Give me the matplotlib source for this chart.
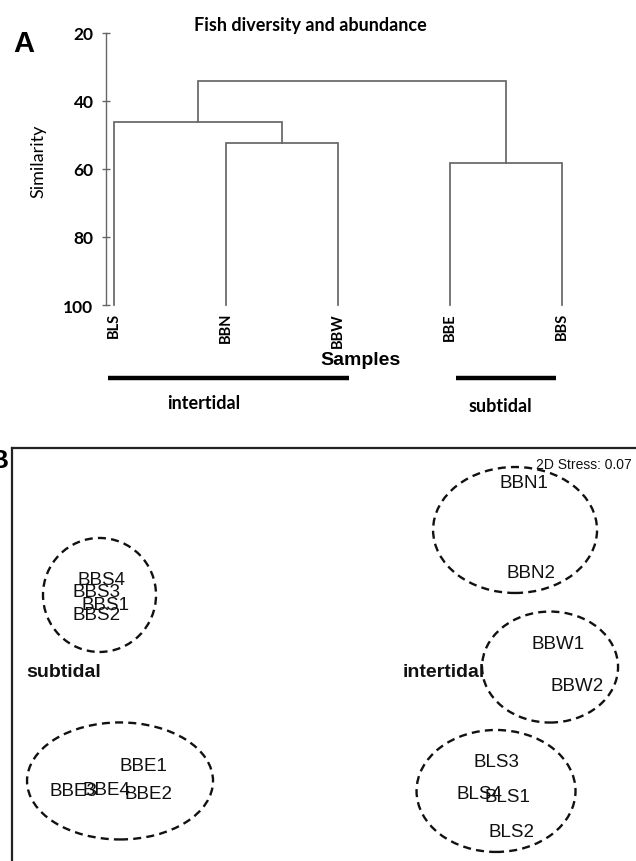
import matplotlib
matplotlib.use("Agg")
import matplotlib.pyplot as plt
from matplotlib.patches import Ellipse
import matplotlib.transforms as mtransforms

# ---------------- Data ----------------
# Panel A: cluster dendrogram (Bray-Curtis similarity)
leaves = ["BLS", "BBN", "BBW", "BBE", "BBS"]
link_a = ["BBN", "BBE", "BLS", "n3"]
link_b = ["BBW", "BBS", "n1", "n2"]
link_names = ["n1", "n2", "n3", "n4"]
link_height = [52.4, 58.1, 46.1, 34.1]
sim_ticks = [20, 40, 60, 80, 100]
groups_A = ["intertidal", "subtidal"]
groups_A_first = ["BLS", "BBE"]
groups_A_last = ["BBW", "BBS"]

# Panel B: nMDS ordination
mds_labels = ["BBS4", "BBS3", "BBS1", "BBS2",
              "BBN1", "BBN2", "BBW1", "BBW2",
              "BLS3", "BLS4", "BLS1", "BLS2",
              "BBE1", "BBE3", "BBE4", "BBE2"]
mds_x = [-2.163, -2.201, -2.125, -2.201,
         1.815, 1.881, 2.135, 2.314,
         1.552, 1.392, 1.655, 1.702,
         -1.768, -2.426, -2.116, -1.721]
mds_y = [0.784, 0.664, 0.552, 0.459,
         1.684, 0.849, 0.181, -0.200,
         -0.905, -1.202, -1.230, -1.555,
         -0.951, -1.183, -1.174, -1.202]
ell_cx = [-2.177, 1.731, 2.060, 1.552, -1.984]
ell_cy = [0.636, 1.239, -0.033, -1.183, -1.090]
ell_w = [1.063, 1.542, 1.279, 1.495, 1.749]
ell_h = [1.058, 1.169, 1.030, 1.132, 1.086]
group_B = ["subtidal", "intertidal"]
group_B_x = [-2.868, 0.677]
group_B_y = [-0.070, -0.070]
stress = 0.07

# ---------------- Figure ----------------
W, H = 636, 862
fig = plt.figure(figsize=(W / 100, H / 100), dpi=100)

def fx(px):
    return px / W

def fy(py):
    return 1 - py / H

# ---- Panel A ----
axA = fig.add_axes([fx(106), fy(306), (580 - 106) / W, (306 - 34) / H])
line_col = "#666666"

pos = {name: (float(i), 100.0) for i, name in enumerate(leaves)}
for a, b, nm, h in zip(link_a, link_b, link_names, link_height):
    xa, ya = pos[a]
    xb, yb = pos[b]
    axA.plot([xa, xa, xb, xb], [ya, h, h, yb], color=line_col, lw=1.25,
             solid_joinstyle="miter", clip_on=False)
    pos[nm] = ((xa + xb) / 2, h)

axA.set_ylim(100, 20)
axA.set_xlim(-0.0714, 4.16)
axA.set_yticks(sim_ticks)
axA.set_yticklabels([str(t) for t in sim_ticks], fontfamily="Lato",
                    fontweight="bold", fontsize=12.5)
axA.tick_params(axis="y", direction="inout", length=6, width=1,
                color=line_col, pad=6)
axA.set_xticks(range(len(leaves)))
axA.set_xticklabels(leaves, rotation=90, fontfamily="Lato",
                    fontweight="bold", fontsize=10.5)
axA.tick_params(axis="x", length=0, pad=5)
for s in ["top", "right", "bottom"]:
    axA.spines[s].set_visible(False)
axA.spines["left"].set_color(line_col)
axA.spines["left"].set_linewidth(1.0)

trA = mtransforms.blended_transform_factory(axA.transData, axA.transAxes)
axA.text(2.2, -0.202, "Samples", transform=trA, ha="center", va="center",
         fontfamily="Liberation Sans", fontweight="bold", fontsize=14)
bar_pad_l = [-0.05, 0.05]
bar_pad_r = [0.1, -0.05]
for g, f0, f1, pl, pr in zip(groups_A, groups_A_first, groups_A_last,
                             bar_pad_l, bar_pad_r):
    x0 = leaves.index(f0) + pl
    x1 = leaves.index(f1) + pr
    axA.plot([x0, x1], [-0.268, -0.268], transform=trA, color="black",
             lw=3.2, solid_capstyle="butt", clip_on=False)
txt_pos = [(0.8, -0.357), (3.45, -0.368)]
for g, (tx, ty) in zip(groups_A, txt_pos):
    axA.text(tx, ty, g, transform=trA, ha="center", va="center",
             fontfamily="Lato", fontweight="bold", fontsize=13)

fig.text(fx(310), fy(26), "Fish diversity and abundance", ha="center",
         va="center", fontfamily="Lato", fontweight="bold", fontsize=13)
fig.text(fx(24), fy(44), "A", ha="center", va="center",
         fontfamily="Liberation Sans", fontweight="bold", fontsize=21)
fig.text(fx(38), fy(161), "Similarity", ha="center", va="center",
         rotation=90, fontfamily="Lato", fontsize=13)

# ---- Panel B ----
axB = fig.add_axes([fx(12), fy(880), (650 - 12) / W, (880 - 449) / H])
axB.set_xlim(-3, 3)
axB.set_ylim(-2, 2)
axB.set_xticks([])
axB.set_yticks([])
for s in axB.spines.values():
    s.set_linewidth(1.6)
    s.set_color("#222222")

for lab, x, y in zip(mds_labels, mds_x, mds_y):
    axB.text(x, y, lab, ha="center", va="center",
             fontfamily="Liberation Sans", fontsize=13.5, color="#111111")

for cx, cy, w, h in zip(ell_cx, ell_cy, ell_w, ell_h):
    axB.add_patch(Ellipse((cx, cy), w, h, fill=False, edgecolor="#111111",
                          lw=1.7, linestyle=(0, (3.4, 2.2))))

for g, x, y in zip(group_B, group_B_x, group_B_y):
    axB.text(x, y, g, ha="left", va="center", fontfamily="Liberation Sans",
             fontweight="bold", fontsize=14, color="#111111")

axB.text((632 - 12) / (650 - 12), 1 - (465 - 449) / (880 - 449),
         f"2D Stress: {stress:.2f}", transform=axB.transAxes, ha="right",
         va="center", fontfamily=["Liberation Sans Narrow", "Liberation Sans"],
         fontsize=10, color="#111111")

fig.text(fx(8), fy(461), "B", ha="right", va="center",
         fontfamily="Liberation Sans", fontweight="bold", fontsize=19)

fig.savefig("out.png", dpi=100)
